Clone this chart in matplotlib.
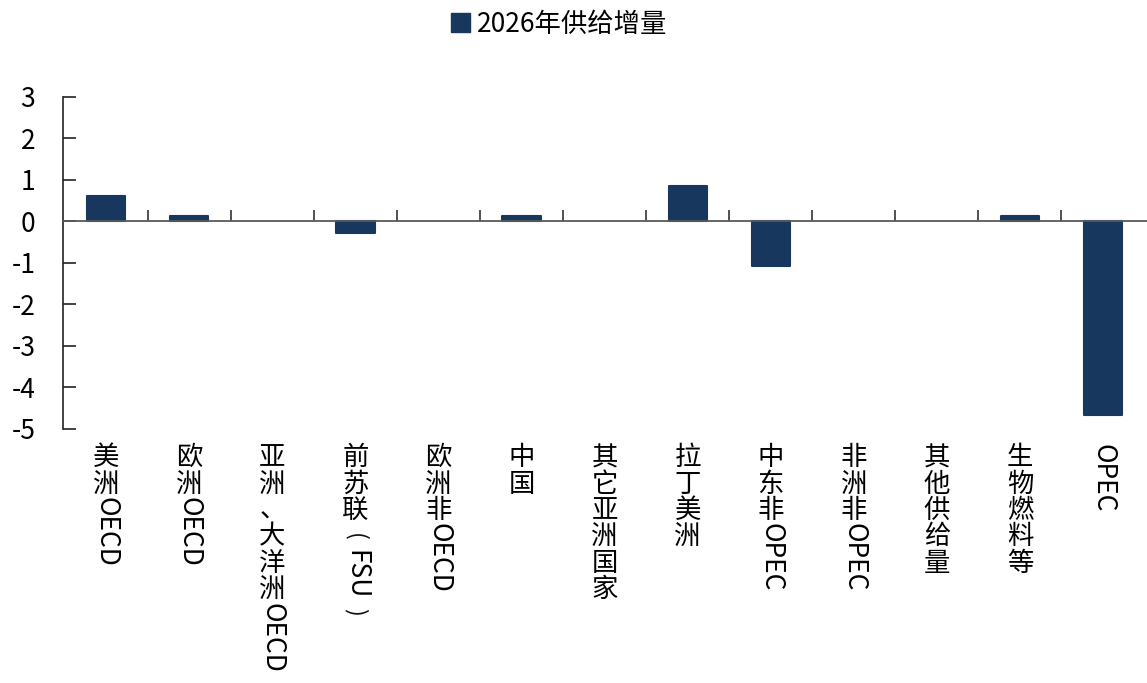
import matplotlib.pyplot as plt
import matplotlib.transforms as mtransforms
from matplotlib.patches import Patch

plt.rcParams['font.family'] = ['Noto Sans CJK SC', 'DejaVu Sans']

# 供给增量数据(百万桶/日)
categories = ['美洲OECD', '欧洲OECD', '亚洲、大洋洲OECD', '前苏联（FSU）', '欧洲非OECD',
              '中国', '其它亚洲国家', '拉丁美洲', '中东非OPEC', '非洲非OPEC',
              '其他供给量', '生物燃料等', 'OPEC']
supply_2026 = [0.62, 0.13, 0.0, -0.27, 0.0, 0.13, 0.0, 0.85, -1.08, 0.0, 0.0, 0.13, -4.67]
series_name = '2026年供给增量'
y_ticks = [3, 2, 1, 0, -1, -2, -3, -4, -5]

bar_color = '#17375E'
fs = 19

fig = plt.figure(figsize=(11.47, 6.83), dpi=100)
ax = fig.add_axes([0.055, 0.372, 0.945, 0.486])

x = list(range(len(categories)))
nonzero = [v != 0 for v in supply_2026]
ax.bar(x, supply_2026, width=0.46, color=bar_color,
       edgecolor=[bar_color if nz else 'none' for nz in nonzero],
       linewidth=1.5, joinstyle='round', zorder=2)

ax.set_xlim(-0.52, 12.53)
ax.set_ylim(-5, 3)
ax.set_yticks(y_ticks)
ax.set_yticklabels([str(v) for v in y_ticks], fontsize=fs)

# 坐标轴样式
for side in ['top', 'right']:
    ax.spines[side].set_visible(False)
ax.spines['bottom'].set_position(('data', 0))
ax.spines['bottom'].set_color('#595959')
ax.spines['bottom'].set_linewidth(1.3)
ax.spines['left'].set_color('#222222')
ax.spines['left'].set_linewidth(1.2)
ax.set_xticks([i + 0.5 for i in range(len(categories) - 1)])
ax.set_xticklabels([])
ax.tick_params(axis='x', direction='in', length=8, width=1.2, color='#333333')
ax.tick_params(axis='y', direction='in', length=9, width=1.2, color='#222222', pad=20)

# 竖排分类标签:汉字直立,英文及全角括号旋转
renderer = fig.canvas.get_renderer()
base = mtransforms.blended_transform_factory(ax.transData, ax.transAxes)


def char_kind(ch):
    if ch in '（）':
        return 'paren'
    if '\u3000' <= ch <= '\u9fff':
        return 'cjk'
    return 'latin'


def split_runs(s):
    runs = []
    for ch in s:
        kind = char_kind(ch)
        if runs and kind == 'latin' and runs[-1][0] == 'latin':
            runs[-1][1] += ch
        else:
            runs.append([kind, ch])
    return runs


for i, label in enumerate(categories):
    y_off = -11.0
    for kind, run in split_runs(label):
        if kind == 'cjk':
            off = mtransforms.ScaledTranslation(0, y_off / 72, fig.dpi_scale_trans)
            ax.text(i, 0, run, transform=base + off, ha='center', va='top',
                    fontsize=fs, clip_on=False)
            y_off -= fs
        elif kind == 'paren':
            # 全角括号占一个字宽,旋转后居中
            off = mtransforms.ScaledTranslation(0, (y_off - fs / 2) / 72, fig.dpi_scale_trans)
            ax.text(i, 0, run.replace('（', '(').replace('）', ')'),
                    transform=base + off, ha='center', va='center',
                    rotation=270, fontsize=fs * 0.9, clip_on=False, color='#111111')
            y_off -= fs
        else:
            off = mtransforms.ScaledTranslation(0, y_off / 72, fig.dpi_scale_trans)
            t = ax.text(i, 0, run, transform=base + off, ha='center', va='top',
                        rotation=270, fontsize=fs, clip_on=False)
            bb = t.get_window_extent(renderer)
            y_off -= bb.height * 72 / fig.dpi

fig.legend(handles=[Patch(facecolor=bar_color, edgecolor=bar_color, label=series_name)],
           loc='center', bbox_to_anchor=(559 / 1147, 1 - 24 / 683), frameon=False,
           fontsize=fs, handlelength=0.75, handleheight=0.75, handletextpad=0.25)

fig.savefig('out.png', dpi=100)
